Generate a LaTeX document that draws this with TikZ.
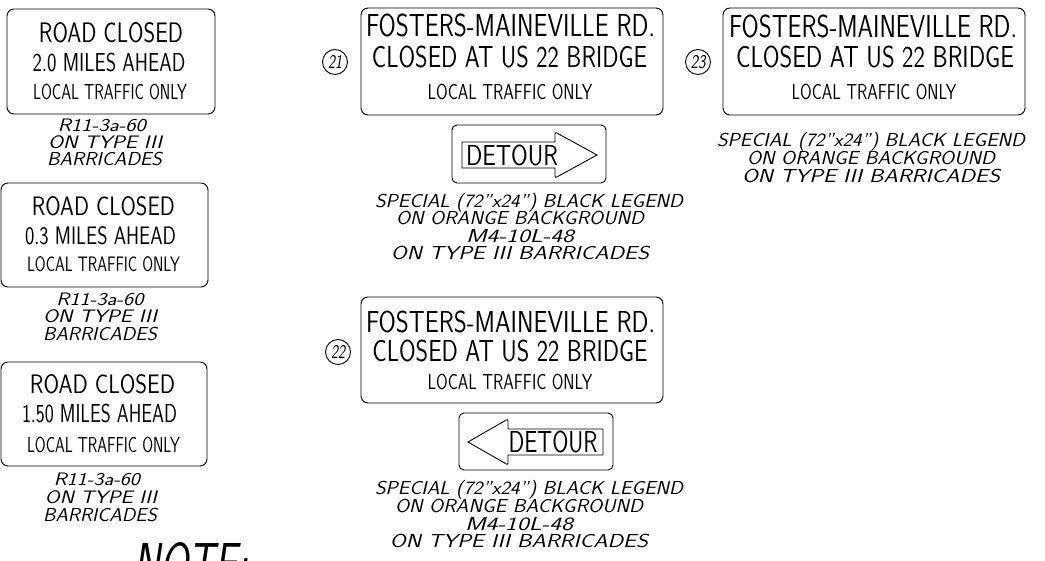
\documentclass[tikz,border=0pt]{standalone}
\usepackage{graphicx}
\newcommand{\fit}[3]{\resizebox{#1pt}{#2pt}{\vphantom{E}\smash{#3}}}
\begin{document}
\begin{tikzpicture}[x=1pt,y=-1pt,line width=0.9pt,
  sign/.style={draw,rounded corners=7pt},
  dsign/.style={draw,rounded corners=5pt},
  t/.style={inner sep=0pt,outer sep=0pt,font=\sffamily\fontsize{40}{40}\selectfont},
  c/.style={inner sep=0pt,outer sep=0pt,font=\sffamily\itshape\fontsize{40}{40}\selectfont},
  num/.style={draw,circle,minimum size=25pt,inner sep=0pt,font=\sffamily\itshape\fontsize{40}{40}\selectfont}]
\useasboundingbox (0,0) rectangle (1045,561);
\clip (0,0) rectangle (1045,561);
\fill[white] (0,0) rectangle (1045,561);

% ---- left column ----
\draw[sign] (7,9) rectangle (215,114);
\node[t] (s1a) at (111,33) {\fit{144}{19.5}{ROAD CLOSED}};
\node[t] (s1b) at (109,62.5) {\fit{153}{18}{2.0 MILES AHEAD}};
\node[t] (s1c) at (110,92.5) {\fit{154}{15}{LOCAL TRAFFIC ONLY}};
\node[c] (s1d) at (102,125.5) {\fit{88}{12.5}{R11-3a-60}};
\node[c] (s1e) at (105,142.5) {\fit{114}{12.5}{ON TYPE III}};
\node[c] (s1f) at (104.5,159) {\fit{115}{13}{BARRICADES}};

\draw[sign] (1,183) rectangle (208,287);
\node[t] (s2a) at (103.5,206) {\fit{143}{18.5}{ROAD CLOSED}};
\node[t] (s2b) at (100.5,235.5) {\fit{151}{17.5}{0.3 MILES AHEAD}};
\node[t] (s2c) at (103.5,264.5) {\fit{153}{14.5}{LOCAL TRAFFIC ONLY}};
\node[c] (s2d) at (100,299.5) {\fit{87}{12.5}{R11-3a-60}};
\node[c] (s2e) at (100,316.5) {\fit{114}{12.5}{ON TYPE III}};
\node[c] (s2f) at (100,334) {\fit{114}{13}{BARRICADES}};

\draw[sign] (1,362) rectangle (207,466);
\node[t] (s3a) at (102.5,384) {\fit{145}{18.5}{ROAD CLOSED}};
\node[t] (s3b) at (99.5,414) {\fit{155}{18}{1.50 MILES AHEAD}};
\node[t] (s3c) at (103.5,444.5) {\fit{153}{15}{LOCAL TRAFFIC ONLY}};
\node[c] (s3d) at (97,479.5) {\fit{86}{12.5}{R11-3a-60}};
\node[c] (s3e) at (101,497) {\fit{112}{12.5}{ON TYPE III}};
\node[c] (s3f) at (100,515) {\fit{114}{13}{BARRICADES}};

\node[c,anchor=north west] (note) at (133,543) {\fit{115}{40}{NOTE:}};

% ---- sign 21 ----
\node[num] (n21) at (335,62) {\fit{14}{13.5}{21}};
\draw[sign] (361,8) rectangle (663,115);
\node[t] (a1) at (510.5,26) {\fit{289}{22}{FOSTERS-MAINEVILLE RD.}};
\node[t] (a2) at (509.5,57.5) {\fit{275}{21}{CLOSED AT US 22 BRIDGE}};
\node[t] (a3) at (510,92.5) {\fit{165}{15}{LOCAL TRAFFIC ONLY}};
\draw[dsign] (452,125) rectangle (606,183);
\draw (462,142) -- (555,142) [rounded corners=2pt] -- (555,132) [sharp corners] -- (597,155)
  [rounded corners=2pt] -- (555,178) [sharp corners] -- (555,168) -- (462,168) -- cycle;
\node[t] (a4) at (512,156) {\fit{92}{20}{DETOUR}};
\node[c] (a5) at (529,201) {\fit{308}{13}{SPECIAL (72"x24") BLACK LEGEND}};
\node[c] (a6) at (520,218.5) {\fit{248}{13}{ON ORANGE BACKGROUND}};
\node[c] (a7) at (520,236) {\fit{108}{13}{M4-10L-48}};
\node[c] (a8) at (520,253.5) {\fit{258}{13}{ON TYPE III BARRICADES}};

% ---- sign 22 ----
\node[num] (n22) at (338,352) {\fit{14}{13.5}{22}};
\draw[sign] (361,297) rectangle (663,403);
\node[t] (b1) at (510.5,322.5) {\fit{289}{21}{FOSTERS-MAINEVILLE RD.}};
\node[t] (b2) at (510,351) {\fit{275}{21}{CLOSED AT US 22 BRIDGE}};
\node[t] (b3) at (510,382.5) {\fit{165}{15}{LOCAL TRAFFIC ONLY}};
\draw[dsign] (459,413) rectangle (613,470);
\draw (603,429) -- (508,429) [rounded corners=2pt] -- (508,419) [sharp corners] -- (468,442)
  [rounded corners=2pt] -- (508,465) [sharp corners] -- (508,455) -- (603,455) -- cycle;
\node[t] (b4) at (553,442.5) {\fit{89}{21}{DETOUR}};
\node[c] (b5) at (529,488) {\fit{308}{13}{SPECIAL (72"x24") BLACK LEGEND}};
\node[c] (b6) at (519,505.5) {\fit{248}{13}{ON ORANGE BACKGROUND}};
\node[c] (b7) at (519,523.5) {\fit{108}{13}{M4-10L-48}};
\node[c] (b8) at (519,541) {\fit{258}{13}{ON TYPE III BARRICADES}};

% ---- sign 23 ----
\node[num] (n23) at (698,62) {\fit{15}{13.5}{23}};
\draw[sign] (723,8) rectangle (1025,115);
\node[t] (c1) at (873,26.5) {\fit{288}{22}{FOSTERS-MAINEVILLE RD.}};
\node[t] (c2) at (875,57.5) {\fit{278}{21}{CLOSED AT US 22 BRIDGE}};
\node[t] (c3) at (874,92.5) {\fit{165}{15}{LOCAL TRAFFIC ONLY}};
\node[c] (c4) at (871,140) {\fit{308}{13}{SPECIAL (72"x24") BLACK LEGEND}};
\node[c] (c5) at (871,158.5) {\fit{248}{13}{ON ORANGE BACKGROUND}};
\node[c] (c6) at (871,176.5) {\fit{258}{13}{ON TYPE III BARRICADES}};
\end{tikzpicture}
\end{document}
